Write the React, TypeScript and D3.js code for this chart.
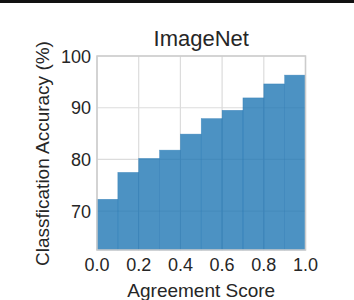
import React from "react";
import * as d3 from "d3";

const width = 354;
const height = 300;
const margin = { top: 56, right: 48.5, bottom: 50, left: 97 };

const binStarts = [0.0, 0.1, 0.2, 0.3, 0.4, 0.5, 0.6, 0.7, 0.8, 0.9];
const accuracy = [72.3, 77.5, 80.2, 81.8, 84.9, 87.9, 89.5, 91.9, 94.6, 96.3];
const xTicks = [0.0, 0.2, 0.4, 0.6, 0.8, 1.0];
const yTicks = [70, 80, 90, 100];
const binWidth = 0.1;

const font = "'Liberation Sans', Arial, sans-serif";
const ink = "#262626";

export default function App() {
  const x = d3
    .scaleLinear()
    .domain([0, 1])
    .range([margin.left, width - margin.right]);
  const y = d3
    .scaleLinear()
    .domain([62.5, 100])
    .range([height - margin.bottom, margin.top]);

  const [x0, x1] = x.range();
  const [yBottom, yTop] = y.range();

  return (
    <svg
      width={width}
      height={height}
      style={{ position: "absolute", left: 0, top: 0, background: "#fff" }}
    >
      <rect x={0} y={0} width={width} height={3} fill="#111" />

      {/* grid */}
      {yTicks.map((t) => (
        <line key={"gy" + t} x1={x0} x2={x1} y1={y(t)} y2={y(t)} stroke="#dcdcdc" strokeWidth={1.2} />
      ))}
      {xTicks.map((t) => (
        <line key={"gx" + t} x1={x(t)} x2={x(t)} y1={yBottom} y2={yTop} stroke="#dcdcdc" strokeWidth={1.2} />
      ))}

      {/* bars */}
      {binStarts.map((b, i) => (
        <rect
          key={"bar" + i}
          x={x(b)}
          y={y(accuracy[i])}
          width={x(b + binWidth) - x(b)}
          height={yBottom - y(accuracy[i])}
          fill="#1f77b4"
          fillOpacity={0.8}
          stroke="#2a7ab5"
          strokeOpacity={0.6}
          strokeWidth={0.6}
        />
      ))}

      {/* frame */}
      <rect
        x={x0}
        y={yTop}
        width={x1 - x0}
        height={yBottom - yTop}
        fill="none"
        stroke="#cccccc"
        strokeWidth={1.5}
      />

      {/* tick labels */}
      {xTicks.map((t) => (
        <text
          key={"xt" + t}
          x={x(t)}
          y={271}
          textAnchor="middle"
          fontFamily={font}
          fontSize={18}
          fill={ink}
        >
          {d3.format(".1f")(t)}
        </text>
      ))}
      {yTicks.map((t) => (
        <text
          key={"yt" + t}
          x={91}
          y={y(t) + 6.5}
          textAnchor="end"
          fontFamily={font}
          fontSize={18}
          fill={ink}
        >
          {t}
        </text>
      ))}

      {/* labels */}
      <text
        x={(x0 + x1) / 2}
        y={296.5}
        textAnchor="middle"
        fontFamily={font}
        fontSize={19}
        fill={ink}
      >
        Agreement Score
      </text>
      <text
        transform={`translate(49,${(yTop + yBottom) / 2 + 0.5}) rotate(-90)`}
        textAnchor="middle"
        fontFamily={font}
        fontSize={19}
        fill={ink}
      >
        Classfication Accuracy (%)
      </text>
      <text
        x={(x0 + x1) / 2}
        y={45.5}
        textAnchor="middle"
        fontFamily={font}
        fontSize={22}
        fill={ink}
      >
        ImageNet
      </text>
    </svg>
  );
}
